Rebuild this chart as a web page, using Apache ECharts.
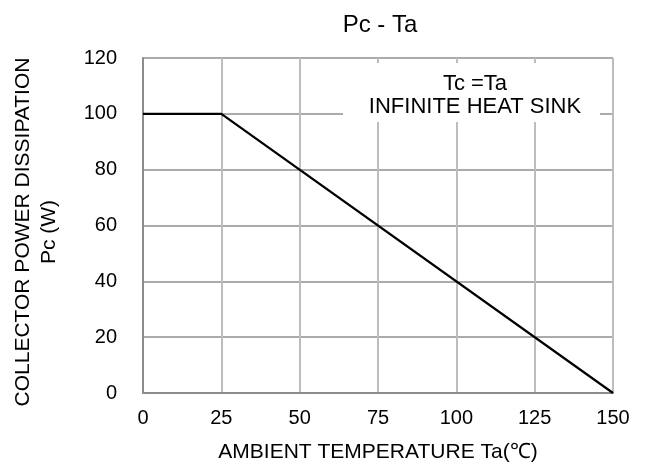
<!DOCTYPE html>
<html>
<head>
<meta charset="utf-8">
<script src="https://cdn.jsdelivr.net/npm/echarts@6/dist/echarts.min.js"></script>
<style>html,body{margin:0;padding:0;background:#fff}#c{width:648px;height:466px}</style>
</head>
<body>
<div id="c"></div>
<script>
var xTicks = [0, 25, 50, 75, 100, 125, 150];
var yTicks = [0, 20, 40, 60, 80, 100, 120];
var temperature = [0, 25, 150];
var power = [100, 100, 0];
var titleText = 'Pc - Ta';
var noteLines = ['Tc =Ta', 'INFINITE HEAT SINK'];
var xName = 'AMBIENT TEMPERATURE Ta(\u2103)';
var yName = 'COLLECTOR POWER DISSIPATION\nPc (W)';

var font = '"Liberation Sans", Arial, sans-serif';
var chart = echarts.init(document.getElementById('c'), null, {renderer: 'canvas'});
chart.setOption({
  animation: false,
  backgroundColor: '#fff',
  title: {text: titleText, left: 375, top: 8, textAlign: 'center',
    textStyle: {fontFamily: font, fontSize: 24, fontWeight: 'normal', color: '#000'}},
  grid: {left: 143, right: 35, top: 58, bottom: 73, containLabel: false, outerBoundsMode: 'none'},
  xAxis: {type: 'value', min: xTicks[0], max: xTicks[xTicks.length - 1], interval: 25,
    name: xName, nameLocation: 'middle', nameGap: 49,
    nameTextStyle: {fontFamily: font, fontSize: 21, color: '#000'},
    axisLine: {show: true, lineStyle: {color: '#8c8c8c', width: 2}},
    axisTick: {show: false},
    axisLabel: {fontFamily: font, fontSize: 20, color: '#000', margin: 15},
    splitLine: {show: true, lineStyle: {color: '#bdbdbd', width: 2}}},
  yAxis: {type: 'value', min: yTicks[0], max: yTicks[yTicks.length - 1], interval: 20,
    axisLine: {show: true, lineStyle: {color: '#8c8c8c', width: 2}},
    axisTick: {show: false},
    axisLabel: {fontFamily: font, fontSize: 20, color: '#000', margin: 26},
    splitLine: {show: true, lineStyle: {color: '#ababab', width: 2}}},
  series: [{type: 'line', data: temperature.map(function (t, i) { return [t, power[i]]; }),
    symbol: 'none', lineStyle: {color: '#000', width: 2.2}, z: 3}],
  graphic: [{type: 'rect', shape: {x: 343, y: 63, width: 257, height: 59}, style: {fill: '#fff'}, z: 10},
    {type: 'text', x: 475, y: 95, style: {text: noteLines.join('\n'), fontFamily: font, fontSize: 22,
      fill: '#000', align: 'center', verticalAlign: 'middle', lineHeight: 23}, z: 11},
    {type: 'text', x: 36, y: 232, rotation: Math.PI / 2, style: {text: yName, fontFamily: font, fontSize: 21,
      fill: '#000', align: 'center', verticalAlign: 'middle', lineHeight: 26}, z: 11}]
});
</script>
</body>
</html>
